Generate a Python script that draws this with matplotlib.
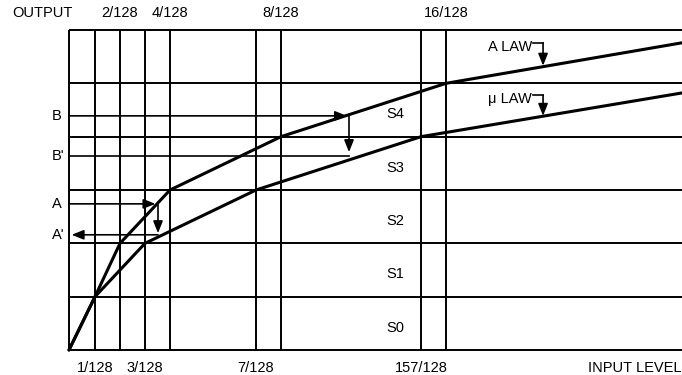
import numpy as np
import matplotlib
matplotlib.use('Agg')
import matplotlib.pyplot as plt
import matplotlib.transforms as mtrans

plt.rcParams['font.family'] = ['Liberation Sans', 'DejaVu Sans']

# ---------------- data ----------------
grid_levels = [0, 1, 2, 3, 4, 7, 8, 15, 16]          # input levels (x/128) with grid lines
top_ticks = [2, 4, 8, 16]
top_labels = ['2/128', '4/128', '8/128', '16/128']
bottom_ticks = [1, 3, 7, 15]
bottom_labels = ['1/128', '3/128', '7/128', '157/128']
segment_edges = [0, 1, 2, 3, 4, 5, 6]                # output segment boundaries
segment_names = ['S0', 'S1', 'S2', 'S3', 'S4']

a_law_x = [0, 1, 2, 4, 8, 16, 32]
a_law_y = [0, 1, 2, 3, 4, 5, 5.76]
mu_law_x = [0, 1, 3, 7, 15, 32]
mu_law_y = [0, 1, 2, 3, 4, 4.82]

out_names = ['B', "B'", 'A', "A'"]
out_values = [4.39, 3.64, 2.74, 2.16]

# non-uniform layout of the input axis
scale_levels = [0, 1, 2, 3, 4, 7, 8, 15, 16, 32]
scale_pos = [0, 26, 51, 76, 101, 187, 212, 352, 377, 613]


def fwd(x):
    return np.interp(x, scale_levels, scale_pos)


def inv(p):
    return np.interp(p, scale_pos, scale_levels)


fig = plt.figure(figsize=(6.82, 3.75), dpi=100)
ax = fig.add_axes([69 / 682, 25 / 375, 613 / 682, 320 / 375])
ax.set_xscale('function', functions=(fwd, inv))
ax.set_xlim(0, 32)
ax.set_ylim(0, 6)
ax.axis('off')

FS = 10.5
GRID_LW = 1.4

# grid
ax.hlines(segment_edges, 0, 32, colors='black', lw=GRID_LW, clip_on=False)
ax.vlines(grid_levels, 0, 6, colors='black', lw=GRID_LW, clip_on=False)

# curves
ax.plot(a_law_x, a_law_y, color='black', lw=2.2, solid_capstyle='round', clip_on=False)
ax.plot(mu_law_x, mu_law_y, color='black', lw=2.2, solid_capstyle='round', clip_on=False)

ARROW = dict(arrowstyle='-|>,head_length=0.6,head_width=0.24', lw=1.2,
             color='black', shrinkA=0, shrinkB=0, mutation_scale=12)


def arrow(x0, y0, x1, y1):
    ax.annotate('', xy=(x1, y1), xytext=(x0, y0), xycoords='data',
                textcoords='data', arrowprops=ARROW, annotation_clip=False)


# A -> A' construction
a_x, a_vx = 3.42, 3.52
arrow(0, out_values[2], a_x, out_values[2])
arrow(a_vx, out_values[2], a_vx, 2.19)
arrow(a_vx, out_values[3], 0.1, out_values[3])

# B -> B' construction
b_x, b_vx = 11.3, 11.4
arrow(0, out_values[0], b_x, out_values[0])
arrow(b_vx, out_values[0], b_vx, 3.71)
ax.plot([0, b_vx], [out_values[1], out_values[1]], color='black', lw=1.2)

# law labels with bent arrows
lab_x, bend_x0, bend_x1 = 21.83, 21.9, 22.58
ax.text(lab_x, 5.68, 'A LAW', ha='right', va='center', fontsize=FS)
ax.plot([bend_x0, bend_x1], [5.76, 5.76], color='black', lw=1.2)
arrow(bend_x1, 5.76, bend_x1, 5.33)
ax.text(lab_x, 4.71, 'μ LAW', ha='right', va='center', fontsize=FS)
ax.plot([bend_x0, bend_x1], [4.78, 4.78], color='black', lw=1.2)
arrow(bend_x1, 4.78, bend_x1, 4.39)

# segment names
for k, name in enumerate(segment_names):
    ax.text(13.7, segment_edges[k] + 0.42, name, ha='center', va='center', fontsize=FS)

# tick labels
tr_top = mtrans.blended_transform_factory(ax.transData, fig.transFigure)
for t, lab in zip(top_ticks, top_labels):
    ax.text(t, 1 - 13 / 375, lab, transform=tr_top, ha='center', va='center', fontsize=FS)
for t, lab in zip(bottom_ticks, bottom_labels):
    ax.text(t, 1 - 368 / 375, lab, transform=tr_top, ha='center', va='center', fontsize=FS)

tr_left = mtrans.blended_transform_factory(fig.transFigure, ax.transData)
for name, v in zip(out_names, out_values):
    ax.text(52 / 682, v, name, transform=tr_left, ha='left', va='center', fontsize=FS)

fig.text(42 / 682, 1 - 13 / 375, 'OUTPUT', ha='center', va='center', fontsize=FS)
fig.text(681 / 682, 1 - 368 / 375, 'INPUT LEVEL', ha='right', va='center', fontsize=FS)

fig.savefig('out.png', dpi=100)
